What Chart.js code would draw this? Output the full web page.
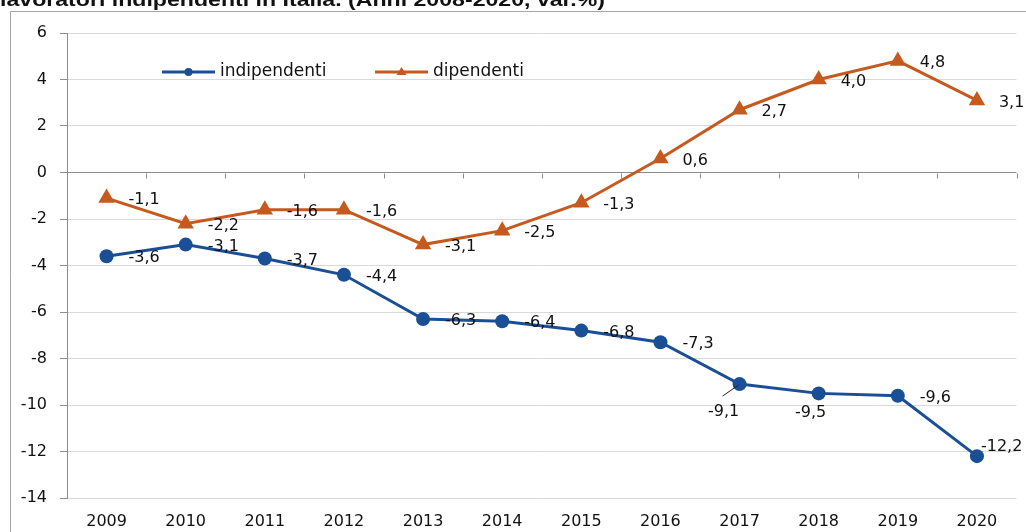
<!DOCTYPE html>
<html>
<head>
<meta charset="utf-8">
<style>
  html, body { margin: 0; padding: 0; background: #fff; }
  #wrap { position: relative; width: 1026px; height: 532px; }
</style>
<script src="https://cdn.jsdelivr.net/npm/chart.js@4.4.1/dist/chart.umd.min.js"></script>
</head>
<body>
<div id="wrap"><canvas id="chart" width="1026" height="532"></canvas></div>
<script>
const years = ['2009', '2010', '2011', '2012', '2013', '2014', '2015', '2016', '2017', '2018', '2019', '2020'];
const indipendenti = [-3.6, -3.1, -3.7, -4.4, -6.3, -6.4, -6.8, -7.3, -9.1, -9.5, -9.6, -12.2];
const dipendenti = [-1.1, -2.2, -1.6, -1.6, -3.1, -2.5, -1.3, 0.6, 2.7, 4.0, 4.8, 3.1];
const yMin = -14, yMax = 6, yStep = 2;
const titleText = 'lavoratori indipendenti in Italia. (Anni 2008-2020, var.%)';

const BLUE = '#1a4f96';
const ORANGE = '#c65a1e';
const FONT = '"DejaVu Sans", sans-serif';

// label placement tweaks (dataset index -> point index -> offset)
const labelTweaks = {
  0: { 8: { dx: -16, dy: 28, align: 'center', leader: true },
       9: { dx: -8, dy: 19, align: 'center' },
       11: { dx: 4, dy: -9 } }
};

// title cut off at the top + frame
const framePlugin = {
  id: 'frame',
  beforeDraw(chart) {
    const ctx = chart.ctx;
    ctx.save();
    ctx.strokeStyle = '#a6a6a6';
    ctx.lineWidth = 1;
    ctx.beginPath();
    ctx.moveTo(10.5, 540);
    ctx.lineTo(10.5, 11.5);
    ctx.lineTo(1030, 11.5);
    ctx.stroke();
    ctx.fillStyle = '#111';
    ctx.font = 'bold 19px "Liberation Sans", Arial, sans-serif';
    ctx.textBaseline = 'alphabetic';
    ctx.textAlign = 'left';
    const w = ctx.measureText(titleText).width;
    ctx.translate(0, 6);
    ctx.scale(605 / w, 1);
    ctx.fillText(titleText, 0, 0);
    ctx.restore();
  }
};

// small category-boundary ticks on the zero line
const zeroTicksPlugin = {
  id: 'zeroTicks',
  afterDraw(chart) {
    const x = chart.scales.x, y = chart.scales.y;
    const ctx = chart.ctx;
    const y0 = Math.round(y.getPixelForValue(0)) + 0.5;
    const step = (x.right - x.left) / years.length;
    ctx.save();
    ctx.strokeStyle = '#8c8c8c';
    ctx.lineWidth = 1;
    ctx.beginPath();
    for (let i = 1; i <= years.length; i++) {
      const px = Math.round(x.left + i * step) + 0.5;
      ctx.moveTo(px, y0);
      ctx.lineTo(px, y0 + 5);
    }
    ctx.stroke();
    ctx.restore();
  }
};

// value labels with comma decimals
const valueLabelsPlugin = {
  id: 'valueLabels',
  afterDatasetsDraw(chart) {
    const ctx = chart.ctx;
    ctx.save();
    ctx.font = '16px ' + FONT;
    ctx.fillStyle = '#111';
    ctx.textBaseline = 'middle';
    chart.data.datasets.forEach((ds, di) => {
      const meta = chart.getDatasetMeta(di);
      meta.data.forEach((pt, i) => {
        const tw = (labelTweaks[di] || {})[i] || {};
        const dx = tw.dx !== undefined ? tw.dx : 22;
        const dy = tw.dy !== undefined ? tw.dy : 2;
        ctx.textAlign = tw.align || 'left';
        const txt = ds.data[i].toFixed(1).replace('.', ',');
        ctx.fillText(txt, pt.x + dx, pt.y + dy);
        if (tw.leader) {
          ctx.strokeStyle = '#222';
          ctx.lineWidth = 1;
          ctx.beginPath();
          ctx.moveTo(pt.x - 17, pt.y + 12);
          ctx.lineTo(pt.x - 1, pt.y + 1);
          ctx.stroke();
        }
      });
    });
    ctx.restore();
  }
};

// legend inside the plot: line with marker in the middle
const legendPlugin = {
  id: 'innerLegend',
  afterDraw(chart) {
    const ctx = chart.ctx;
    const ly = 72;
    const items = [
      { x: 162, color: BLUE, label: 'indipendenti', style: 'circle' },
      { x: 375, color: ORANGE, label: 'dipendenti', style: 'triangle' }
    ];
    ctx.save();
    items.forEach(it => {
      ctx.strokeStyle = it.color;
      ctx.fillStyle = it.color;
      ctx.lineWidth = 3;
      ctx.beginPath();
      ctx.moveTo(it.x, ly);
      ctx.lineTo(it.x + 53, ly);
      ctx.stroke();
      const cx = it.x + 26.5;
      ctx.beginPath();
      if (it.style === 'circle') {
        ctx.arc(cx, ly, 4, 0, Math.PI * 2);
      } else {
        ctx.moveTo(cx, ly - 5);
        ctx.lineTo(cx + 5, ly + 3);
        ctx.lineTo(cx - 5, ly + 3);
        ctx.closePath();
      }
      ctx.fill();
      ctx.fillStyle = '#111';
      ctx.font = '17px ' + FONT;
      ctx.textBaseline = 'middle';
      ctx.textAlign = 'left';
      ctx.fillText(it.label, it.x + 58, ly);
    });
    ctx.restore();
  }
};

const ctx = document.getElementById('chart').getContext('2d');
new Chart(ctx, {
  type: 'line',
  data: {
    labels: years,
    datasets: [{
      label: 'indipendenti',
      data: indipendenti,
      borderColor: BLUE,
      backgroundColor: BLUE,
      borderWidth: 3,
      pointStyle: 'circle',
      pointRadius: 7,
      pointBorderWidth: 0,
      tension: 0
    }, {
      label: 'dipendenti',
      data: dipendenti,
      borderColor: ORANGE,
      backgroundColor: ORANGE,
      borderWidth: 3,
      pointStyle: 'triangle',
      pointRadius: 9.5,
      pointBorderWidth: 0,
      tension: 0
    }]
  },
  options: {
    responsive: false,
    animation: false,
    layout: { padding: { left: 0, right: 8, top: 33, bottom: 0 } },
    plugins: {
      legend: { display: false },
      title: { display: false },
      tooltip: { enabled: false }
    },
    scales: {
      x: {
        offset: true,
        grid: { display: false, drawTicks: false },
        border: { display: false },
        ticks: {
          padding: 14,
          color: '#111',
          font: { family: FONT, size: 16 },
          maxRotation: 0
        },
        afterFit(scale) { scale.height = 34; }
      },
      y: {
        min: yMin,
        max: yMax,
        grid: {
          color: c => (c.tick && c.tick.value === 0) ? '#8c8c8c' : '#d9d9d9',
          tickColor: '#8c8c8c',
          tickLength: 7
        },
        border: { color: '#8c8c8c' },
        ticks: {
          stepSize: yStep,
          padding: 13,
          color: '#111',
          font: { family: FONT, size: 16 }
        },
        afterFit(scale) { scale.width = 67; }
      }
    }
  },
  plugins: [framePlugin, zeroTicksPlugin, valueLabelsPlugin, legendPlugin]
});
</script>
</body>
</html>
